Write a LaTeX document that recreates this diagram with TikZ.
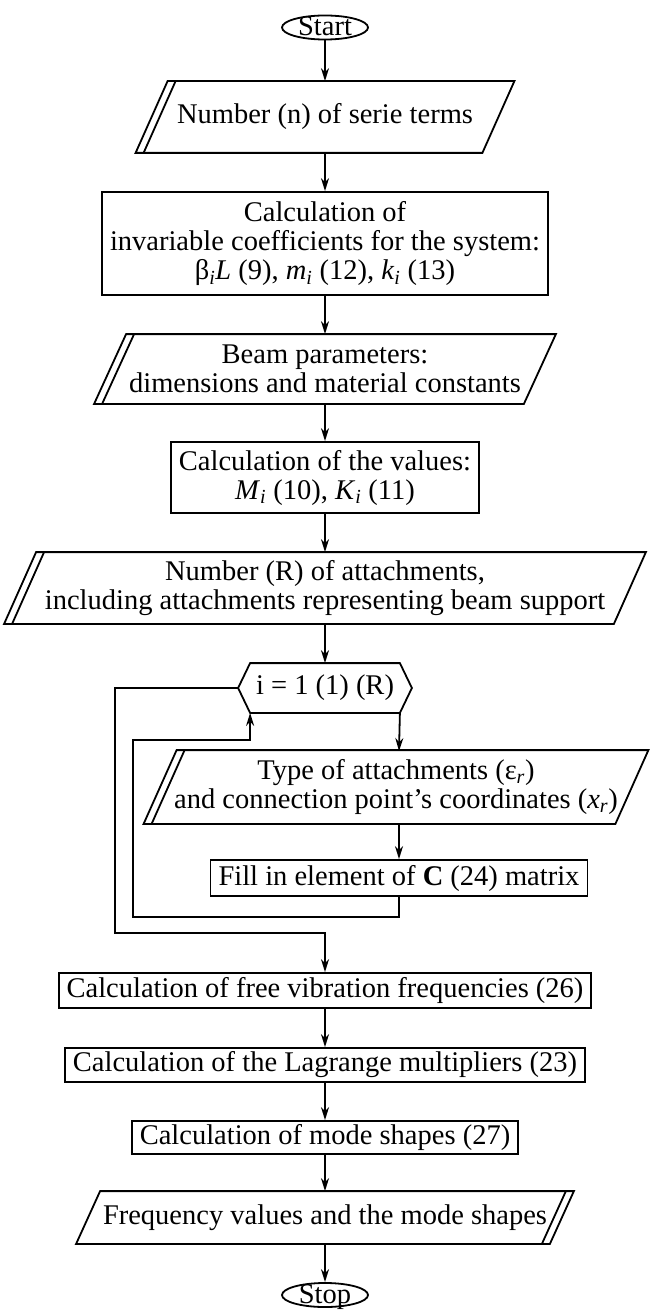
\documentclass[tikz,border=0pt]{standalone}
\usepackage{fontspec}
\setmainfont{Liberation Serif}
\usetikzlibrary{shapes.geometric,arrows.meta}

% input block: parallelogram with double line on the left
\newcommand{\inslant}[2]{%
  \draw[-] ([xshift=#2]#1.north west) -- ([xshift=#2]#1.north east)
    -- ([xshift=-#2]#1.south east) -- ([xshift=-#2]#1.south west) -- cycle;
  \draw[-] ([xshift=#2+8pt]#1.north west) -- ([xshift=-#2+8pt]#1.south west);
}
% output block: parallelogram with double line on the right
\newcommand{\outslant}[2]{%
  \draw[-] ([xshift=#2]#1.north west) -- ([xshift=#2]#1.north east)
    -- ([xshift=-#2]#1.south east) -- ([xshift=-#2]#1.south west) -- cycle;
  \draw[-] ([xshift=#2-8pt]#1.north east) -- ([xshift=-#2-8pt]#1.south east);
}

\begin{document}
\begin{tikzpicture}[->,>={Stealth[length=13pt,width=8pt]},
  x=1pt, y=-1pt,
  line width=1.8pt,
  font=\fontsize{28.5}{29}\selectfont,
  term/.style={ellipse,
        draw,
        inner sep=0pt,
        text height=17pt,
        text depth=0pt,
        minimum width=86pt,
        minimum height=24pt},
  proc/.style={rectangle,
        draw,
        inner xsep=8pt,
        inner ysep=0pt,
        align=center},
  slant/.style={rectangle,
        inner sep=0pt,
        align=center}
  ]

  \useasboundingbox (0,0) rectangle (650,1313);

  \node[term] (start) at (325,27.5) {Start};

  \node[slant,
        minimum width=345pt,
        minimum height=70pt
        ] (nser) at (325,117) {Number (n) of serie terms};
  \inslant{nser}{16pt}

  \node[proc,
        minimum height=103pt
        ] (coef) at (325,243.5) {Calculation of\\
        invariable coefficients for the system:\\
        β\textsubscript{\textit{i}}\textit{L} (9), \textit{m}\textsubscript{\textit{i}} (12), \textit{k}\textsubscript{\textit{i}} (13)};

  \node[slant,
        minimum width=428pt,
        minimum height=68pt
        ] (beam) at (325,369) {Beam parameters:\\ dimensions and material constants};
  \inslant{beam}{16pt}

  \node[proc,
        minimum height=71pt
        ] (vals) at (325,477.5) {Calculation of the values:\\
        \textit{M}\textsubscript{\textit{i}} (10), \textit{K}\textsubscript{\textit{i}} (11)};

  \node[slant,
        minimum width=608pt,
        minimum height=70pt
        ] (natt) at (325,588) {Number (R) of attachments,\\
        including attachments representing beam support};
  \inslant{natt}{16pt}

  % loop header
  \node[slant,
        minimum width=148pt,
        minimum height=48pt
        ] (loop) at (325,688) {i = 1 (1) (R)};
  \draw[-] (loop.north west) -- (loop.north east) -- ([xshift=12pt]loop.east)
    -- (loop.south east) -- (loop.south west) -- ([xshift=-12pt]loop.west) -- cycle;
  \coordinate (hexl) at ([xshift=-12pt]loop.west);

  \node[slant,
        minimum width=470pt,
        minimum height=72pt
        ] (ptype) at (396,787) {Type of attachments (ε\textsubscript{\textit{r}})\\
        and connection point’s coordinates (\textit{x}\textsubscript{\textit{r}})};
  \inslant{ptype}{16.5pt}

  \node[proc,
        minimum height=36pt
        ] (fill) at (399,878) {Fill in element of \textbf{C} (24) matrix};

  \node[proc,
        minimum height=35pt
        ] (freev) at (325,990.5) {Calculation of free vibration frequencies (26)};

  \node[proc,
        minimum height=34pt
        ] (lagr) at (325,1065) {Calculation of the Lagrange multipliers (23)};

  \node[proc,
        minimum height=33pt
        ] (modes) at (325,1137.5) {Calculation of mode shapes (27)};

  \node[slant,
        minimum width=472pt,
        minimum height=51pt
        ] (pfreq) at (325,1217.5) {Frequency values and the mode shapes};
  \outslant{pfreq}{12pt}

  \node[term] (stop) at (325,1295) {Stop};

  \coordinate (o1) at (115,688);
  \coordinate (o2) at (115,933);
  \coordinate (i1) at (133,917);
  \coordinate (i2) at (133,740);
  \coordinate (t1) at (399,751);

  \path
  (start) edge (nser)
  (nser) edge (coef)
  (coef) edge (beam)
  (beam) edge (vals)
  (vals) edge (natt)
  (natt) edge (loop)
  (loop.south east) edge (t1)
  (t1 |- ptype.south) edge (fill)
  (freev) edge (lagr)
  (lagr) edge (modes)
  (modes) edge (pfreq)
  (pfreq) edge (stop);

  % loop exit and return
  \draw (hexl) -- (o1) -- (o2) -| (freev);
  \draw (fill.south) |- (i1) -- (i2) -| (loop.south west);

\end{tikzpicture}
\end{document}
